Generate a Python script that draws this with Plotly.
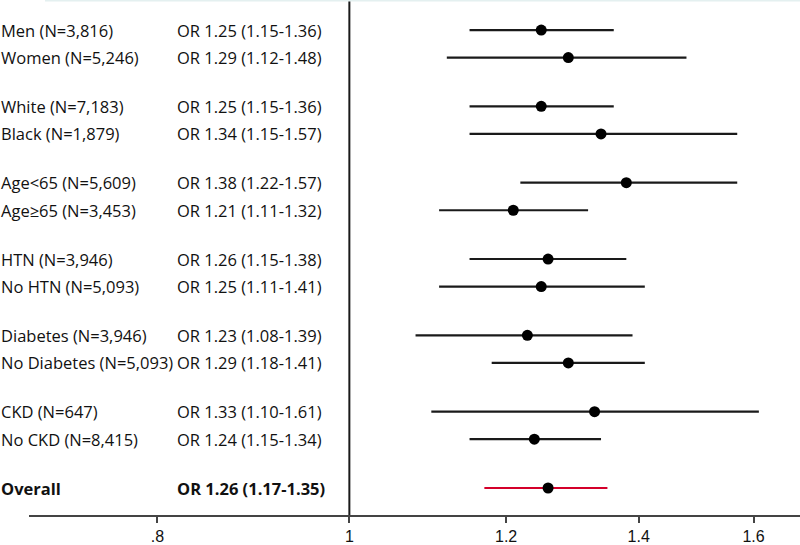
import plotly.graph_objects as go

labels = ["Men (N=3,816)", "Women (N=5,246)", "White (N=7,183)", "Black (N=1,879)",
          "Age<65 (N=5,609)", "Age≥65 (N=3,453)", "HTN (N=3,946)", "No HTN (N=5,093)",
          "Diabetes (N=3,946)", "No Diabetes (N=5,093)", "CKD (N=647)", "No CKD (N=8,415)"]
or_vals = [1.25, 1.29, 1.25, 1.34, 1.38, 1.21, 1.26, 1.25, 1.23, 1.29, 1.33, 1.24]
lo_vals = [1.15, 1.12, 1.15, 1.15, 1.22, 1.11, 1.15, 1.11, 1.08, 1.18, 1.10, 1.15]
hi_vals = [1.36, 1.48, 1.36, 1.57, 1.57, 1.32, 1.38, 1.41, 1.39, 1.41, 1.61, 1.34]
overall_label = "Overall"
overall_or, overall_lo, overall_hi = 1.26, 1.17, 1.35
tick_vals = [0.8, 1, 1.2, 1.4, 1.6]
tick_text = [".8", "1", "1.2", "1.4", "1.6"]

GROUP_STEP = 2.77
ys = [(i // 2) * GROUP_STEP + (i % 2) for i in range(len(labels))]
y_overall = 6 * GROUP_STEP

fig = go.Figure()

fig.add_trace(go.Scatter(
    x=or_vals, y=ys, mode="markers",
    marker=dict(color="black", size=11),
    error_x=dict(type="data", symmetric=False,
                 array=[h - o for h, o in zip(hi_vals, or_vals)],
                 arrayminus=[o - l for o, l in zip(or_vals, lo_vals)],
                 color="#1a1a1a", thickness=2.2, width=0),
    showlegend=False, hoverinfo="skip"))

fig.add_trace(go.Scatter(
    x=[overall_or], y=[y_overall], mode="markers",
    marker=dict(color="black", size=11),
    error_x=dict(type="data", symmetric=False,
                 array=[overall_hi - overall_or], arrayminus=[overall_or - overall_lo],
                 color="#d4002a", thickness=2, width=0),
    showlegend=False, hoverinfo="skip"))

FONT = "Open Sans"
FS = 16.5
LEFT = 29
PW = 771
annotations = []
for lab, o, l, h, y in zip(labels, or_vals, lo_vals, hi_vals, ys):
    annotations.append(dict(x=(-1 - LEFT) / PW, xref="paper", y=y, yref="y", text=lab,
                            showarrow=False, xanchor="left", yanchor="middle",
                            font=dict(family=FONT, size=FS, color="#111")))
    annotations.append(dict(x=(175 - LEFT) / PW, xref="paper", y=y, yref="y",
                            text=f"OR {o:.2f} ({l:.2f}-{h:.2f})",
                            showarrow=False, xanchor="left", yanchor="middle",
                            font=dict(family=FONT, size=FS, color="#111")))
annotations.append(dict(x=(-1 - LEFT) / PW, xref="paper", y=y_overall, yref="y",
                        text=f"<b>{overall_label}</b>", showarrow=False,
                        xanchor="left", yanchor="middle",
                        font=dict(family=FONT, size=FS, color="#111")))
annotations.append(dict(x=(175 - LEFT) / PW, xref="paper", y=y_overall, yref="y",
                        text=f"<b>OR {overall_or:.2f} ({overall_lo:.2f}-{overall_hi:.2f})</b>",
                        showarrow=False, xanchor="left", yanchor="middle",
                        font=dict(family=FONT, size=FS, color="#111")))

shapes = [
    dict(type="line", xref="x", yref="paper", x0=1, x1=1, y0=0, y1=1.0,
         line=dict(color="#1a1a1a", width=2)),
    dict(type="line", xref="paper", yref="paper", x0=(45 - LEFT) / PW, x1=1, y0=1.0, y1=1.0,
         line=dict(color="#e4f0f0", width=3)),
]

fig.update_layout(
    width=800, height=545,
    margin=dict(l=LEFT, r=0, t=0, b=30, autoexpand=False),
    paper_bgcolor="white", plot_bgcolor="white",
    annotations=annotations, shapes=shapes,
    xaxis=dict(type="log", range=[-0.1618, 0.2276], showgrid=False, zeroline=False,
               automargin=False,
               showline=True, linecolor="#444", linewidth=1.5,
               ticks="outside", ticklen=6, tickwidth=1.5, tickcolor="#444",
               tickvals=tick_vals, ticktext=tick_text,
               tickfont=dict(family="Liberation Sans Narrow, Arial Narrow, Liberation Sans", size=16, color="#111")),
    yaxis=dict(range=[17.6, -1.09], showgrid=False, zeroline=False, showline=False,
               automargin=False, showticklabels=False, ticks=""),
)

fig.write_html("out.html", config={"displayModeBar": False},
               post_script="document.body.style.margin='0';document.body.style.overflow='hidden';")
